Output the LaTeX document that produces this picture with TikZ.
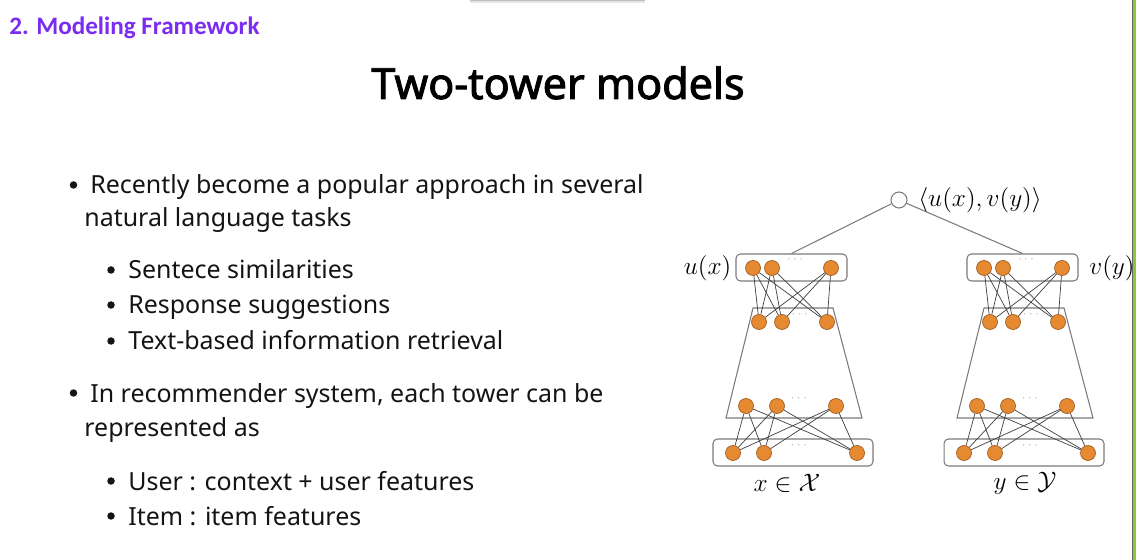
\documentclass[tikz,border=0pt]{standalone}
\usepackage[no-math]{fontspec}
\setmainfont{Noto Sans}
\newfontfamily\headfont{Carlito}
\newfontfamily\titlefont[FakeBold=2.2]{Noto Sans}
\definecolor{nodefill}{HTML}{E68A32}
\definecolor{nodedraw}{HTML}{A35E22}
\definecolor{boxgray}{HTML}{7A7A7A}
\definecolor{headpurple}{HTML}{7A2CF0}
\definecolor{edgegreen}{HTML}{8CC63E}
\newcommand\mktower[2]{%
\begin{scope}[xshift=#2*0.02cm]
  % top box
  \node[netbox, minimum width=2.22cm] (#1top) at (791.5,267.5) {};
  \node[neuron] (#1a1) at (753,268) {};
  \node[neuron] (#1a2) at (772,268) {};
  \node[neuron] (#1a3) at (831,268) {};
  \node[tinydots] (#1ad) at (795,259) {$\cdots$};
  % second layer
  \coordinate (#1t1) at (753,308);
  \coordinate (#1t2) at (833,308);
  \coordinate (#1t3) at (862,418);
  \coordinate (#1t4) at (726,418);
  \draw[towerline] (#1t1) -- (#1t2) -- (#1t3) -- (#1t4) -- cycle;
  \node[neuron] (#1b1) at (759,322) {};
  \node[neuron] (#1b2) at (782,322) {};
  \node[neuron] (#1b3) at (827,322) {};
  \node[tinydots] (#1bd) at (800,314) {$\cdots$};
  % third layer
  \node[neuron] (#1c1) at (746,406) {};
  \node[neuron] (#1c2) at (777,406) {};
  \node[neuron] (#1c3) at (836,406) {};
  \node[tinydots] (#1cd) at (799,398) {$\cdots$};
  % bottom box
  \node[netbox, minimum width=3.2cm] (#1bot) at (793,452.5) {};
  \node[neuron] (#1d1) at (733,453) {};
  \node[neuron] (#1d2) at (764,453) {};
  \node[neuron] (#1d3) at (857,453) {};
  \node[tinydots] (#1dd) at (799,445) {$\cdots$};
  \foreach \i in {1,2,3}{\foreach \j in {1,2,3}{
    \draw[netedge] (#1a\i) -- (#1b\j);
    \draw[netedge] (#1c\i) -- (#1d\j);
  }}
\end{scope}}
\begin{document}
\begin{tikzpicture}[x=0.02cm,y=-0.02cm,
  neuron/.style={circle, draw=nodedraw, fill=nodefill, minimum size=0.3cm, inner sep=0pt, line width=0.4pt},
  netbox/.style={draw=boxgray, rounded corners=2.5pt, minimum height=0.54cm, inner sep=0pt, line width=0.6pt},
  towerline/.style={draw=boxgray, line width=0.6pt},
  netedge/.style={draw=black!75, line width=0.4pt},
  tinydots/.style={inner sep=0pt, font=\fontsize{4}{4}\selectfont, text=black!50},
  mathlbl/.style={inner sep=0pt, font=\fontsize{14.2}{16}\selectfont},
  bodytext/.style={anchor=base west, inner sep=0pt, font=\fontsize{14.2}{17}\selectfont, text=black!92},
  bul/.style={circle, fill=black!92, inner sep=0pt, minimum size=0.15cm}
]
\useasboundingbox (0,0) rectangle (1136,560);
\fill[white] (0,0) rectangle (1136,560);
% top shadow strip and right edge
\fill[black!25] (470,0) rectangle (645,1.5);
\fill[black!10] (470,1.5) rectangle (645,3);
\fill[black!60] (1132,0) rectangle (1133,560);
\fill[edgegreen] (1133,0) rectangle (1136,560);
% header and title
\node[anchor=base west, inner sep=0pt, font=\headfont\bfseries\fontsize{14.3}{17}\selectfont, text=headpurple] (head) at (9,34.5) {2. Modeling Framework};
\node[anchor=base, inner sep=0pt, font=\titlefont\fontsize{24.5}{28}\selectfont] (title) at (558,99) {Two-tower models};
% bullets
\node[bul] (b1) at (73.5,185) {};
\node[bodytext] (t1) at (90,194) {Recently become a popular approach in several};
\node[bodytext] (t1b) at (84,227) {natural language tasks};
\node[bul] (b2) at (111,270) {};
\node[bodytext] (t2) at (128,279) {Sentece similarities};
\node[bul] (b3) at (111,305) {};
\node[bodytext] (t3) at (128,314) {Response suggestions};
\node[bul] (b4) at (111,341) {};
\node[bodytext] (t4) at (128,350) {Text-based information retrieval};
\node[bul] (b5) at (73.5,393) {};
\node[bodytext] (t5) at (90,402) {In recommender system, each tower can be};
\node[bodytext] (t5b) at (84,437) {represented as};
\node[bul] (b6) at (111,481) {};
\node[bodytext] (t6) at (128,490) {User : context + user features};
\node[bul] (b7) at (111,516) {};
\node[bodytext] (t7) at (128,525) {Item : item features};
% towers
\mktower{L}{0}
\mktower{R}{231}
% output
\node[circle, draw=boxgray, fill=white, minimum size=0.32cm, inner sep=0pt, line width=0.6pt] (out) at (899,200) {};
\node[mathlbl, anchor=west] (outlbl) at (918,200) {$\langle u(x), v(y)\rangle$};
\draw[towerline] (out) -- (Ltop.north);
\draw[towerline] (out) -- (Rtop.north);
\node[mathlbl] (ulbl) at (707.5,268) {$u(x)$};
\node[mathlbl] (vlbl) at (1112,268) {$v(y)$};
\node[mathlbl] (xlbl) at (787,483) {$x\in\mathcal{X}$};
\node[mathlbl] (ylbl) at (1025,483) {$y\in\mathcal{Y}$};
\end{tikzpicture}
\end{document}
